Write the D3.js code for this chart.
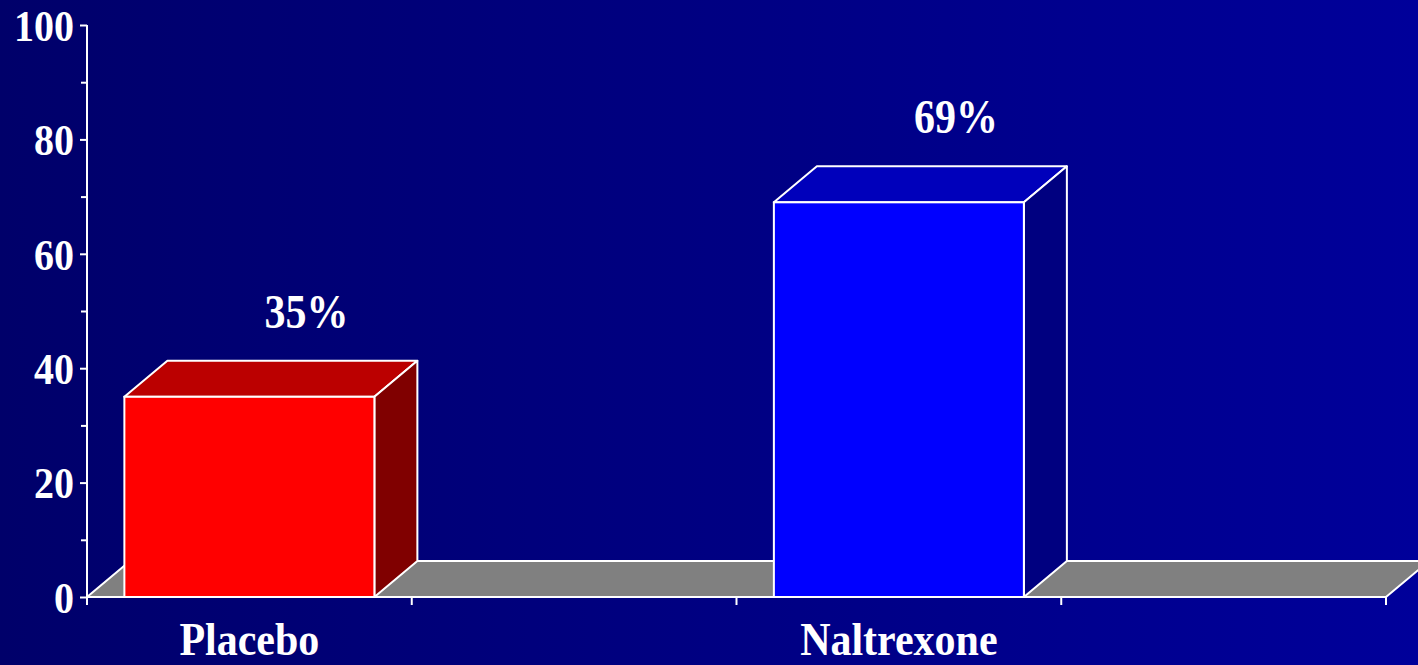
<!DOCTYPE html>
<html>
<head>
<meta charset="utf-8">
<script src="https://cdn.jsdelivr.net/npm/d3@7"></script>
<style>
html,body{margin:0;padding:0;overflow:hidden;}
svg{display:block;}
text{font-family:"Liberation Serif","Times New Roman",serif;font-weight:bold;fill:#fff;}
</style>
</head>
<body>
<svg id="c" width="1418" height="665"></svg>
<script>
const categories = ["Placebo", "Naltrexone"];
const values = [35, 69];
const valueLabels = ["35%", "69%"];
const slots = ["Placebo", "gap1", "Naltrexone", "gap2"];
const yTicks = [0, 20, 40, 60, 80, 100];
const yMinorTicks = [10, 30, 50, 70, 90];
const frontColors = ["#ff0000", "#0000ff"];
const topColors = ["#bb0000", "#0000bb"];
const sideColors = ["#800000", "#000080"];

const W = 1418, H = 665;
const svg = d3.select("#c");
const defs = svg.append("defs");
const grad = defs.append("linearGradient").attr("id", "bg").attr("x1", "0").attr("x2", "1").attr("y1", "0").attr("y2", "0");
grad.append("stop").attr("offset", "0").attr("stop-color", "#00006a");
grad.append("stop").attr("offset", "1").attr("stop-color", "#00009a");
svg.append("rect").attr("width", W).attr("height", H).attr("fill", "url(#bg)");

const x0 = 87, x1 = 1386, yTop = 25, yBot = 597;
const dx = 43, dy = -36;
const x = d3.scaleBand().domain(slots).range([x0, x1]).paddingInner(0).paddingOuter(0);
const y = d3.scaleLinear().domain([0, 100]).range([yBot, yTop]);
const barW = 250;
const stroke = "#fff";
const sw = 2;

// floor
svg.append("polygon")
  .attr("points", [[x0, y(0)], [x1, y(0)], [x1 + dx, y(0) + dy], [x0 + dx, y(0) + dy]].map(p => p.join(",")).join(" "))
  .attr("fill", "#808080").attr("stroke", stroke).attr("stroke-width", sw).attr("stroke-linejoin", "round");

// y axis
const yAxis = d3.axisLeft(y).tickValues(yTicks).tickSize(7).tickPadding(6).tickFormat(d3.format("d"));
const yg = svg.append("g").attr("transform", `translate(${x0},0)`).call(yAxis);
yg.select(".domain").remove();
yg.selectAll(".tick line").attr("stroke", stroke).attr("stroke-width", sw);
yg.selectAll(".tick text").attr("fill", "#fff").attr("font-size", 40)
  .attr("font-family", "Liberation Serif, Times New Roman, serif").attr("font-weight", "bold")
  .attr("dy", null).attr("dominant-baseline", "central")
  .attr("transform", "scale(1,1.12)").attr("y", 0);
const yMinor = d3.axisLeft(y).tickValues(yMinorTicks).tickSize(6).tickFormat("");
const ym = svg.append("g").attr("transform", `translate(${x0},0)`).call(yMinor);
ym.select(".domain").remove();
ym.selectAll(".tick line").attr("stroke", stroke).attr("stroke-width", sw);
svg.append("line").attr("x1", x0).attr("x2", x0).attr("y1", yTop).attr("y2", yBot + 8)
  .attr("stroke", stroke).attr("stroke-width", sw);

// x ticks at slot boundaries
const bounds = slots.map(s => x(s)).concat([x1]);
svg.append("g").selectAll("line").data(bounds).join("line")
  .attr("x1", d => d).attr("x2", d => d).attr("y1", yBot).attr("y2", yBot + 8)
  .attr("stroke", stroke).attr("stroke-width", sw);

// bars
categories.forEach((c, i) => {
  const cx = x(c) + x.bandwidth() / 2;
  const bx = cx - barW / 2, bx2 = cx + barW / 2;
  const top = y(values[i]), base = y(0);
  const g = svg.append("g");
  g.append("polygon")
    .attr("points", [[bx, top], [bx2, top], [bx2 + dx, top + dy], [bx + dx, top + dy]].map(p => p.join(",")).join(" "))
    .attr("fill", topColors[i]).attr("stroke", stroke).attr("stroke-width", sw).attr("stroke-linejoin", "round");
  g.append("polygon")
    .attr("points", [[bx2, top], [bx2 + dx, top + dy], [bx2 + dx, base + dy], [bx2, base]].map(p => p.join(",")).join(" "))
    .attr("fill", sideColors[i]).attr("stroke", stroke).attr("stroke-width", sw).attr("stroke-linejoin", "round");
  g.append("rect").attr("x", bx).attr("y", top).attr("width", barW).attr("height", base - top)
    .attr("fill", frontColors[i]).attr("stroke", stroke).attr("stroke-width", sw);
  // value label
  const ly = top - 85;
  svg.append("text").attr("text-anchor", "middle").attr("dominant-baseline", "central")
    .attr("font-size", 42)
    .attr("transform", `translate(${cx + 57},${ly}) scale(1,1.15)`)
    .text(valueLabels[i]);
  // category label
  svg.append("text").attr("text-anchor", "middle")
    .attr("font-size", 42)
    .attr("transform", `translate(${cx},655) scale(1,1.08)`)
    .text(c);
});
</script>
</body>
</html>
